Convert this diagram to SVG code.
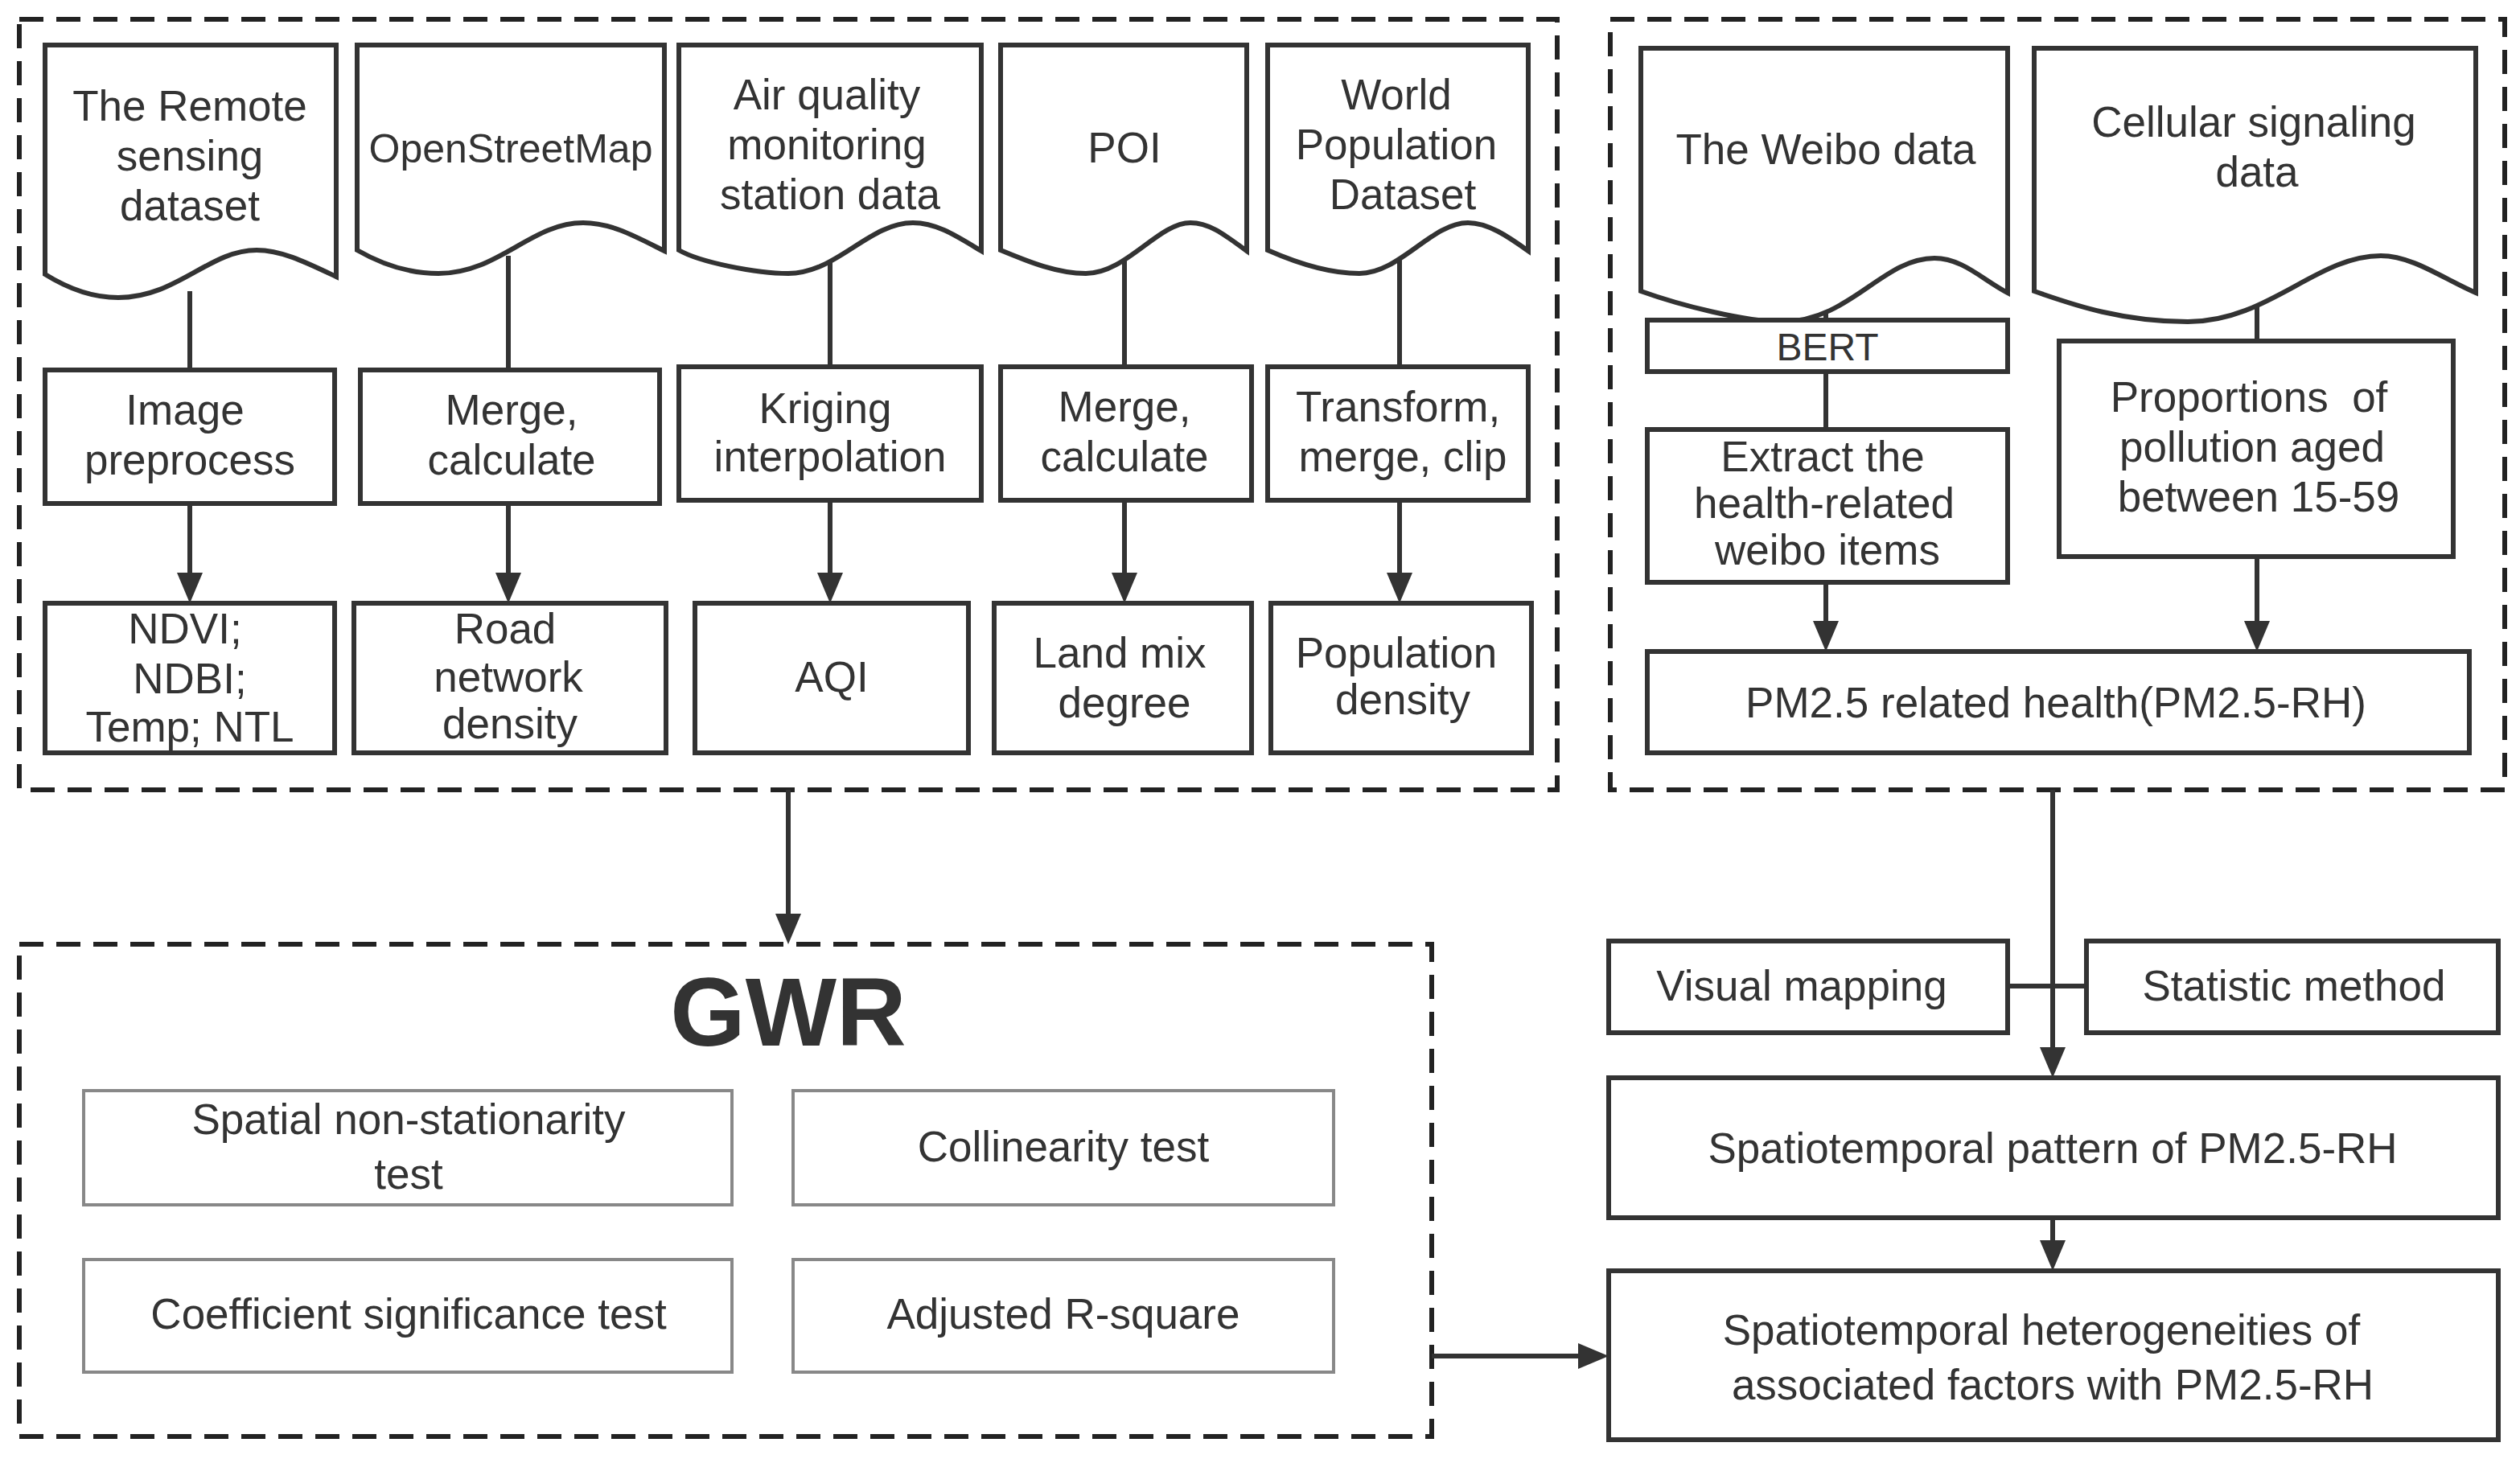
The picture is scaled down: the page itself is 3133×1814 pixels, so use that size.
<svg xmlns="http://www.w3.org/2000/svg" width="3133" height="1814" viewBox="0 0 3133 1814">
<style>
text{font-family:"Liberation Sans",Arial,sans-serif;font-size:53px;fill:#333;text-anchor:middle}
.b{fill:#fff;stroke:#333;stroke-width:6}
.g{fill:#fff;stroke:#888;stroke-width:4}
.d{fill:none;stroke:#222;stroke-width:6;stroke-dasharray:30 16}
.c{fill:none;stroke:#333;stroke-width:6}
</style>
<rect width="3133" height="1814" fill="#fff"/>
<g id="boxes-dashed">
<rect class="d" x="24" y="24" width="1912" height="958"/>
<rect class="d" x="2002" y="24" width="1112" height="958"/>
<rect class="d" x="24" y="1174" width="1756" height="612"/>
</g>
<g id="connectors">
<path class="c" d="M236,362V460M632,318V460M1032,318V456M1398,318V456M1740,318V456M2270,340V398M2270,462V534M2806,340V424"/>
<path class="c" d="M236,626V712M632,626V712M1032,622V712M1398,622V712M1740,622V712M2270,724V772M2806,692V772M980,982V1136M2552,982V1302M2496,1226H2594M2552,1514V1542M1780,1686H1962"/>
<path fill="#333" d="M220,712h32l-16,38zM616,712h32l-16,38zM1016,712h32l-16,38zM1382,712h32l-16,38zM1724,712h32l-16,38zM2254,772h32l-16,38zM2790,772h32l-16,38zM964,1136h32l-16,38zM2536,1302h32l-16,38zM2536,1542h32l-16,38zM1962,1670v32l38,-16z"/>
</g>
<g id="n1"><path class="b" d="M56,56H418V344C380,326 350,311 319,311C260,311 220,370 147,370C110,370 80,356 56,341Z"/><text x="236" y="150">The Remote</text><text x="236" y="212">sensing</text><text x="236" y="274">dataset</text></g>
<g id="n2"><path class="b" d="M444,56H826V312C790,294 760,277 725,277C660,277 620,340 545,340C505,340 470,326 444,311Z"/><text x="635" y="202" style="font-size:50px">OpenStreetMap</text></g>
<g id="n3"><path class="b" d="M844,56H1220V312C1190,294 1165,277 1135,277C1080,277 1040,340 980,340C940,340 870,326 844,311Z"/><text x="1028" y="136">Air quality</text><text x="1028" y="198">monitoring</text><text x="1032" y="260">station data</text></g>
<g id="n4"><path class="b" d="M1244,56H1550V312C1525,294 1505,277 1480,277C1440,277 1400,340 1350,340C1315,340 1280,326 1244,311Z"/><text x="1398" y="202">POI</text></g>
<g id="n5"><path class="b" d="M1576,56H1900V312C1875,294 1850,277 1825,277C1780,277 1740,340 1690,340C1650,340 1610,326 1576,311Z"/><text x="1736" y="136">World</text><text x="1736" y="198">Population</text><text x="1744" y="260">Dataset</text></g>
<g id="n6"><rect class="b" x="56" y="460" width="360" height="166"/><text x="230" y="528">Image</text><text x="236" y="590">preprocess</text></g>
<g id="n7"><rect class="b" x="448" y="460" width="372" height="166"/><text x="636" y="528">Merge,</text><text x="636" y="590">calculate</text></g>
<g id="n8"><rect class="b" x="844" y="456" width="376" height="166"/><text x="1026" y="526">Kriging</text><text x="1032" y="586">interpolation</text></g>
<g id="n9"><rect class="b" x="1244" y="456" width="312" height="166"/><text x="1398" y="524">Merge,</text><text x="1398" y="586">calculate</text></g>
<g id="n10"><rect class="b" x="1576" y="456" width="324" height="166"/><text x="1738" y="524">Transform,</text><text x="1744" y="586">merge, clip</text></g>
<g id="n11"><rect class="b" x="56" y="750" width="360" height="186"/><text x="230" y="800">NDVI;</text><text x="236" y="862">NDBI;</text><text x="236" y="922">Temp; NTL</text></g>
<g id="n12"><rect class="b" x="440" y="750" width="388" height="186"/><text x="628" y="800">Road</text><text x="632" y="860">network</text><text x="634" y="918">density</text></g>
<g id="n13"><rect class="b" x="864" y="750" width="340" height="186"/><text x="1034" y="860">AQI</text></g>
<g id="n14"><rect class="b" x="1236" y="750" width="320" height="186"/><text x="1392" y="830">Land mix</text><text x="1398" y="892">degree</text></g>
<g id="n15"><rect class="b" x="1580" y="750" width="324" height="186"/><text x="1736" y="830">Population</text><text x="1744" y="888">density</text></g>
<g id="n16"><path class="b" d="M2040,60H2496V364C2465,348 2440,321 2405,321C2340,321 2300,400 2215,400C2170,400 2090,380 2040,362Z"/><text x="2270" y="204">The Weibo data</text></g>
<g id="n17"><path class="b" d="M2529,60H3078V364C3040,348 3000,318 2960,318C2880,318 2820,400 2720,400C2640,400 2580,380 2529,362Z"/><text x="2802" y="170">Cellular signaling</text><text x="2806" y="232">data</text></g>
<g id="n18"><rect class="b" x="2048" y="398" width="448" height="64"/><text x="2272" y="448" style="font-size:48px">BERT</text></g>
<g id="n19"><rect class="b" x="2048" y="534" width="448" height="190"/><text x="2266" y="586">Extract the</text><text x="2268" y="644">health-related</text><text x="2272" y="702">weibo items</text></g>
<g id="n20"><rect class="b" x="2560" y="424" width="490" height="268"/><text x="2796" y="512" style="white-space:pre">Proportions  of</text><text x="2800" y="574">pollution aged</text><text x="2808" y="636">between 15-59</text></g>
<g id="n21"><rect class="b" x="2048" y="810" width="1022" height="126"/><text x="2556" y="892">PM2.5 related health(PM2.5-RH)</text></g>
<g id="n22"><text x="980" y="1300" style="font-size:120px;font-weight:bold;fill:#333">GWR</text>
<rect class="g" x="104" y="1356" width="806" height="142"/><text x="508" y="1410">Spatial non-stationarity</text><text x="508" y="1478">test</text>
<rect class="g" x="986" y="1356" width="672" height="142"/><text x="1322" y="1444">Collinearity test</text>
<rect class="g" x="104" y="1566" width="806" height="140"/><text x="508" y="1652">Coefficient significance test</text>
<rect class="g" x="986" y="1566" width="672" height="140"/><text x="1322" y="1652">Adjusted R-square</text></g>
<g id="n23"><rect class="b" x="2000" y="1170" width="496" height="114"/><text x="2240" y="1244">Visual mapping</text></g>
<g id="n24"><rect class="b" x="2594" y="1170" width="512" height="114"/><text x="2852" y="1244">Statistic method</text></g>
<g id="n25"><rect class="b" x="2000" y="1340" width="1106" height="174"/><text x="2552" y="1446">Spatiotemporal pattern of PM2.5-RH</text></g>
<g id="n26"><rect class="b" x="2000" y="1580" width="1106" height="210"/><text x="2538" y="1672">Spatiotemporal heterogeneities of</text><text x="2552" y="1740">associated factors with PM2.5-RH</text></g>
</svg>
